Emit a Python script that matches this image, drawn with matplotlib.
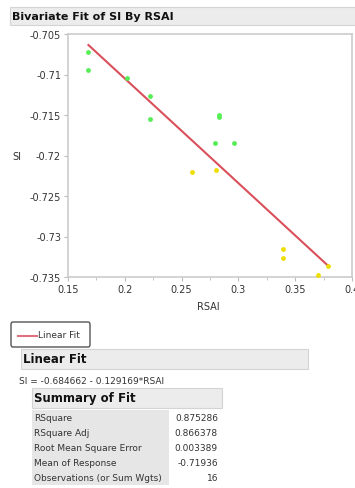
import numpy as np
import matplotlib.pyplot as plt
import matplotlib
from matplotlib.patches import Rectangle, FancyBboxPatch
from matplotlib.ticker import MultipleLocator

# data
rsai_green = [0.168, 0.168, 0.202, 0.222, 0.222, 0.283, 0.283, 0.279, 0.296]
si_green = [-0.7072, -0.7094, -0.7104, -0.7126, -0.7155, -0.7150, -0.7153, -0.7184, -0.7184]
rsai_yellow = [0.259, 0.280, 0.339, 0.339, 0.370, 0.379]
si_yellow = [-0.7220, -0.7218, -0.7315, -0.7327, -0.7347, -0.7337]

intercept = -0.684662
slope = -0.129169

summary_labels = ['RSquare', 'RSquare Adj', 'Root Mean Square Error',
                  'Mean of Response', 'Observations (or Sum Wgts)']
summary_values = ['0.875286', '0.866378', '0.003389', '-0.71936', '16']

W, H = 355, 489
fig = plt.figure(figsize=(W / 100, H / 100), dpi=100)
fig.set_facecolor('white')

def fx(px):
    return px / W

def fy(py):
    return 1 - py / H

def bar(x0, y0, x1, y1, fc='#ececec', ec='#d4d4d4'):
    fig.patches.append(Rectangle((fx(x0), fy(y1)), fx(x1) - fx(x0), fy(y0) - fy(y1),
                                 transform=fig.transFigure, fc=fc, ec=ec, lw=0.8))

# title bar
bar(10, 8, 356, 26)
fig.text(fx(12), fy(17), 'Bivariate Fit of SI By RSAI', fontsize=8, fontweight='bold',
         va='center', ha='left', color='#111111')

# main plot
ax = fig.add_axes([fx(68), fy(278), fx(352) - fx(68), fy(35) - fy(278)])
ax.scatter(rsai_green, si_green, s=12, color='#55ee55', zorder=3, linewidths=0)
ax.scatter(rsai_yellow, si_yellow, s=12, color='#eedd00', zorder=3, linewidths=0)

all_x = np.array(rsai_green + rsai_yellow)
xl = np.array([all_x.min(), all_x.max()])
ax.plot(xl, intercept + slope * xl, color='#d9505a', lw=1.5, zorder=2)

ax.set_xlim(0.15, 0.4)
ax.set_ylim(-0.735, -0.705)
ax.xaxis.set_major_locator(MultipleLocator(0.05))
ax.xaxis.set_minor_locator(MultipleLocator(0.025))
ax.yaxis.set_major_locator(MultipleLocator(0.005))
ax.set_xticks([0.15, 0.2, 0.25, 0.3, 0.35, 0.4])
ax.set_xticklabels(['0.15', '0.2', '0.25', '0.3', '0.35', '0.4'])
ax.set_yticks([-0.705, -0.71, -0.715, -0.72, -0.725, -0.73, -0.735])
ax.set_yticklabels(['-0.705', '-0.71', '-0.715', '-0.72', '-0.725', '-0.73', '-0.735'])
ax.tick_params(labelsize=7, colors='#333333', length=3, width=0.8, pad=2)
ax.tick_params(which='both', color='#bbbbbb')
ax.tick_params(which='minor', length=2)
for s in ax.spines.values():
    s.set_color('#cccccc')
    s.set_linewidth(1.2)

fig.text(fx(17), fy(157), 'SI', fontsize=7, color='#333333', ha='center', va='center')
fig.text(fx(208), fy(307), 'RSAI', fontsize=7, color='#333333', ha='center', va='center')

# legend box
fig.patches.append(FancyBboxPatch((fx(11), fy(348)), fx(90) - fx(11), fy(323) - fy(348),
                                  boxstyle='round,pad=0,rounding_size=0.005',
                                  transform=fig.transFigure, fc='white', ec='#555555', lw=1.0))
fig.lines.append(matplotlib.lines.Line2D([fx(18), fx(37)], [fy(337), fy(337)],
                                         transform=fig.transFigure, color='#e07080', lw=1.5))
fig.text(fx(38), fy(336), 'Linear Fit', fontsize=6.5, color='#333333', va='center')

# linear fit bar
bar(21, 350, 308, 370)
fig.text(fx(23), fy(360), 'Linear Fit', fontsize=8.5, fontweight='bold', va='center', color='#111111')
fig.text(fx(19), fy(381), 'SI = %.6f - %.6f*RSAI' % (intercept, -slope), fontsize=6.5,
         va='center', color='#333333')

# summary of fit
bar(32, 389, 222, 409)
fig.text(fx(34), fy(399), 'Summary of Fit', fontsize=8.5, fontweight='bold', va='center', color='#111111')
bar(32, 411, 169, 486, fc='#e6e6e6', ec='none')
row_y = [419, 434, 449, 464, 479]
for lab, val, y in zip(summary_labels, summary_values, row_y):
    fig.text(fx(34), fy(y), lab, fontsize=6.5, va='center', color='#333333')
    fig.text(fx(218), fy(y), val, fontsize=6.5, va='center', ha='right', color='#333333')

fig.savefig('out.png', dpi=100)
